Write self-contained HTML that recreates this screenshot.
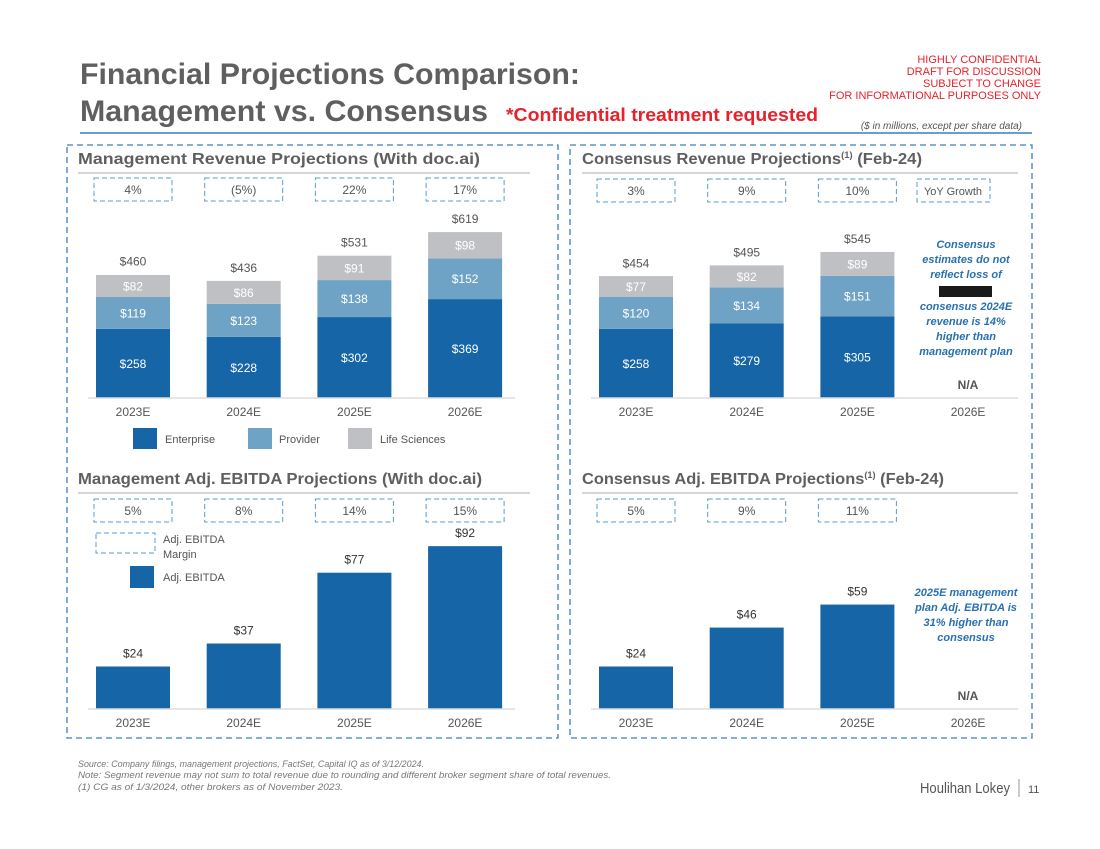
<!DOCTYPE html>
<html><head><meta charset="utf-8"><style>
body{margin:0;background:#fff;width:1100px;height:849px;overflow:hidden;font-family:"Liberation Sans",sans-serif}
svg{display:block}
</style></head><body>
<svg id="s" width="1100" height="849" viewBox="0 0 1100 849" font-family="Liberation Sans, sans-serif">
<text x="80" y="84" font-size="30" font-weight="bold" fill="#5f5f5f" textLength="500" lengthAdjust="spacingAndGlyphs">Financial Projections Comparison:</text>
<text x="80" y="121" font-size="30" font-weight="bold" fill="#5f5f5f" textLength="408" lengthAdjust="spacingAndGlyphs">Management vs. Consensus</text>
<text x="506" y="121" font-size="18" font-weight="bold" fill="#e8212a" textLength="312" lengthAdjust="spacingAndGlyphs">*Confidential treatment requested</text>
<g font-size="11" fill="#e8212a" text-anchor="end">
<text x="1041" y="63">HIGHLY CONFIDENTIAL</text><text x="1041" y="75">DRAFT FOR DISCUSSION</text><text x="1041" y="87">SUBJECT TO CHANGE</text><text x="1041" y="99">FOR INFORMATIONAL PURPOSES ONLY</text></g>
<line x1="80" y1="133" x2="1032" y2="133" stroke="#3a7fc0" stroke-width="1.5"/>
<text x="1022" y="129" font-size="10" font-style="italic" fill="#555" text-anchor="end">($ in millions, except per share data)</text>
<rect x="67" y="145" width="491" height="593" fill="none" stroke="#3a7fc0" stroke-width="1.3" stroke-dasharray="6,4"/>
<rect x="570" y="145" width="462" height="593" fill="none" stroke="#3a7fc0" stroke-width="1.3" stroke-dasharray="6,4"/>
<g font-size="16" font-weight="bold" fill="#5f5f5f">
<text x="78" y="164" textLength="402" lengthAdjust="spacingAndGlyphs">Management Revenue Projections (With doc.ai)</text>
<text x="582" y="164" textLength="340" lengthAdjust="spacingAndGlyphs">Consensus Revenue Projections<tspan font-size="9" dy="-6">(1)</tspan><tspan dy="6"> (Feb-24)</tspan></text>
<text x="78" y="484" textLength="404" lengthAdjust="spacingAndGlyphs">Management Adj. EBITDA Projections (With doc.ai)</text>
<text x="582" y="484" textLength="362" lengthAdjust="spacingAndGlyphs">Consensus Adj. EBITDA Projections<tspan font-size="9" dy="-6">(1)</tspan><tspan dy="6"> (Feb-24)</tspan></text>
</g>
<g stroke="#c8c8c8" stroke-width="1.5">
<line x1="78" y1="173" x2="530" y2="173"/><line x1="582" y1="173" x2="1018" y2="173"/>
<line x1="78" y1="493" x2="530" y2="493"/><line x1="582" y1="493" x2="1018" y2="493"/>
</g>
<g id="charts"></g>
<g font-size="11" fill="#555">
<rect x="133" y="428" width="24" height="21" fill="#1565a7"/><text x="165" y="443">Enterprise</text>
<rect x="248" y="428" width="24" height="21" fill="#6fa3c6"/><text x="279" y="443">Provider</text>
<rect x="348" y="428" width="24" height="21" fill="#bfc0c4"/><text x="380" y="443">Life Sciences</text>
</g>
<g font-size="11" fill="#555">
<rect x="96" y="533" width="59" height="20" fill="none" stroke="#5a9bd0" stroke-dasharray="5,3"/>
<text x="163" y="543">Adj. EBITDA</text><text x="163" y="558">Margin</text>
<rect x="130" y="566" width="24" height="22" fill="#1565a7"/><text x="163" y="581">Adj. EBITDA</text>
</g>
<rect x="917" y="179" width="73" height="23" fill="none" stroke="#5a9bd0" stroke-dasharray="5,3"/>
<text x="953" y="195" font-size="11" fill="#555" text-anchor="middle">YoY Growth</text>
<g font-size="11" font-weight="bold" font-style="italic" fill="#2870b0" text-anchor="middle">
<text x="966" y="248">Consensus</text><text x="966" y="263">estimates do not</text><text x="966" y="278">reflect loss of</text>
<rect x="939" y="286" width="53" height="11" fill="#1a1a1a"/>
<text x="966" y="310">consensus 2024E</text><text x="966" y="325">revenue is 14%</text><text x="966" y="340">higher than</text><text x="966" y="355">management plan</text></g>
<g font-size="11" font-weight="bold" font-style="italic" fill="#2870b0" text-anchor="middle">
<text x="966" y="596">2025E management</text><text x="966" y="611">plan Adj. EBITDA is</text><text x="966" y="626">31% higher than</text><text x="966" y="641">consensus</text></g>
<text x="968" y="389" font-size="12" font-weight="bold" fill="#555" text-anchor="middle">N/A</text>
<text x="968" y="700" font-size="12" font-weight="bold" fill="#555" text-anchor="middle">N/A</text>
<g font-size="9.5" font-style="italic" fill="#777">
<text x="78" y="767" textLength="346" lengthAdjust="spacingAndGlyphs">Source: Company filings, management projections, FactSet, Capital IQ as of 3/12/2024.</text>
<text x="78" y="778" textLength="533" lengthAdjust="spacingAndGlyphs">Note: Segment revenue may not sum to total revenue due to rounding and different broker segment share of total revenues.</text>
<text x="78" y="790" textLength="265" lengthAdjust="spacingAndGlyphs">(1)    CG as of 1/3/2024, other brokers as of November 2023.</text></g>
<text x="1010" y="793" font-size="15" fill="#555" text-anchor="end" textLength="90" lengthAdjust="spacingAndGlyphs">Houlihan Lokey</text>
<line x1="1019" y1="779" x2="1019" y2="797" stroke="#999"/>
<text x="1028" y="793" font-size="11" fill="#555">11</text>
</svg>
<script>
const years = ["2023E","2024E","2025E","2026E"];
const mgmtEnterprise = [258,228,302,369];
const mgmtProvider = [119,123,138,152];
const mgmtLife = [82,86,91,98];
const mgmtTotal = [460,436,531,619];
const mgmtRevGrowth = ["4%","(5%)","22%","17%"];
const consEnterprise = [258,279,305];
const consProvider = [120,134,151];
const consLife = [77,82,89];
const consTotal = [454,495,545];
const consRevGrowth = ["3%","9%","10%"];
const mgmtEbitda = [24,37,77,92];
const mgmtEbitdaMargin = ["5%","8%","14%","15%"];
const consEbitda = [24,46,59];
const consEbitdaMargin = ["5%","9%","11%"];

const NS="http://www.w3.org/2000/svg";
const root=document.getElementById('charts');
function mk(tag,attrs,txt){const e=document.createElementNS(NS,tag);for(const k in attrs)e.setAttribute(k,attrs[k]);if(txt!=null)e.textContent=txt;root.appendChild(e);return e;}
const revScale=v=>v*0.268, ebScale=v=>v*1.77;
const COL=["#1565a7","#6fa3c6","#bfc0c4"];
function xCenter(x0,i){return x0+i*110.7;}
function growthBoxes(x0,y,labels){labels.forEach((g,i)=>{const c=xCenter(x0,i);
 const r=mk('rect',{x:c-39,y:y,width:78,height:23,fill:'none',stroke:'#5a9bd0','stroke-dasharray':'5,3'});
 
 
 mk('text',{x:c,y:y+16,'font-size':12,fill:'#555','text-anchor':'middle'},g);});}
function axis(x0,base){mk('line',{x1:x0-45,y1:base,x2:x0+3*110.7+50,y2:base,stroke:'#ddd','stroke-width':1.5});
 years.forEach((y,i)=>mk('text',{x:xCenter(x0,i),y:base+18,'font-size':12,fill:'#555','text-anchor':'middle'},y));}
function stacked(x0,base,segs,totals){totals.forEach((t,i)=>{const c=xCenter(x0,i);let y=base;
 segs.forEach((s,k)=>{const h=revScale(s[i]);y-=h;
  const r=mk('rect',{x:c-37,y:y,width:74,height:h,fill:COL[k]});
  
  
  mk('text',{x:c,y:y+h/2+4.5,'font-size':12,fill:'#fff','text-anchor':'middle'},'$'+s[i]);});
 mk('text',{x:c,y:base-revScale(t)-9,'font-size':12,fill:'#555','text-anchor':'middle'},'$'+t);});}
function bars(x0,base,vals){vals.forEach((v,i)=>{const c=xCenter(x0,i),h=ebScale(v);
 const r=mk('rect',{x:c-37,y:base-h,width:74,height:h,fill:'#1565a7'});
 
 
 mk('text',{x:c,y:base-h-9,'font-size':12,fill:'#333','text-anchor':'middle'},'$'+v);});}
growthBoxes(133,178,mgmtRevGrowth);growthBoxes(636,179,consRevGrowth);
growthBoxes(133,499,mgmtEbitdaMargin);growthBoxes(636,499,consEbitdaMargin);
stacked(133,398,[mgmtEnterprise,mgmtProvider,mgmtLife],mgmtTotal);
stacked(636,398,[consEnterprise,consProvider,consLife],consTotal);
bars(133,709,mgmtEbitda);bars(636,709,consEbitda);
axis(133,398);axis(636,398);axis(133,709);axis(636,709);
</script>
</body></html>
